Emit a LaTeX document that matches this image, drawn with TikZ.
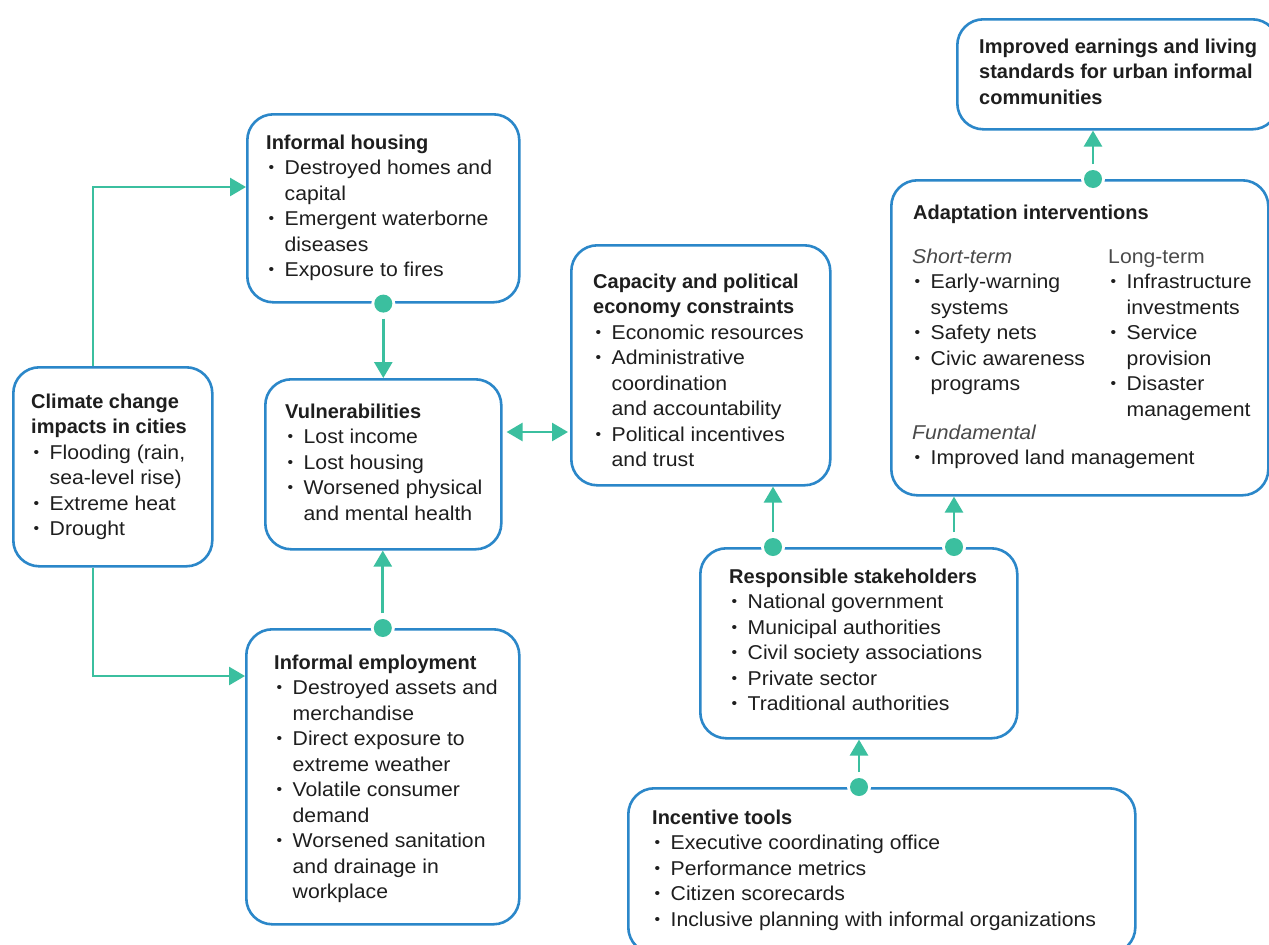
\documentclass[tikz,border=0pt]{standalone}
\usepackage{fontspec}
\setmainfont{Liberation Sans}[FakeStretch=1.06]
\newfontfamily\tfont{Liberation Sans}
\usetikzlibrary{arrows.meta,calc}
\definecolor{boxblue}{HTML}{2B87C9}
\definecolor{tealc}{HTML}{3BBF9F}
\definecolor{txtc}{HTML}{1E1E1E}
\definecolor{subc}{HTML}{4A4A4A}
\newcommand{\bi}{\makebox[18.5pt][l]{\hspace{2.5pt}\raisebox{1.8pt}{\scalebox{0.75}{\textbullet}}}}
\newcommand{\ci}{\hspace*{18.5pt}}
\newcommand{\tb}[1]{{\tfont\bfseries #1}}
\newcommand{\ttl}[1]{\rule{0pt}{16pt}{\tfont\bfseries #1}}
\newcommand{\sbl}[1]{\rule{0pt}{16pt}{\color{subc}\itshape #1}}
\newcommand{\dotat}[1]{\fill[white] (#1) circle (12pt); \fill[tealc] (#1) circle (9pt);}
\tikzset{
  box/.style={draw=boxblue, line width=2.6pt, rounded corners=26pt, fill=white, inner sep=0pt, anchor=north west},
  txt/.style={inner sep=0pt, anchor=north west, align=left, text=txtc, font=\fontsize{20}{25.5}\selectfont},
  arr/.style={draw=tealc, line width=2.7pt, -{Triangle[length=16pt,width=18pt]}},
  darr/.style={draw=tealc, line width=2.7pt, {Triangle[length=16pt,width=18pt]}-{Triangle[length=16pt,width=18pt]}},
}
\begin{document}
\begin{tikzpicture}[x=1pt,y=-1pt]
\useasboundingbox[fill=white] (0,0) rectangle (1269,945);
% boxes
\node[box, minimum width=199pt, minimum height=199pt] (clim) at (12,366) {};
\node[box, minimum width=272pt, minimum height=188pt] (hous) at (246,113) {};
\node[box, minimum width=236pt, minimum height=170pt] (vuln) at (264,378) {};
\node[box, minimum width=273pt, minimum height=295pt] (empl) at (245,628) {};
\node[box, minimum width=259pt, minimum height=240pt] (capa) at (570,244) {};
\node[box, minimum width=317pt, minimum height=190pt] (stak) at (699,547) {};
\node[box, minimum width=507pt, minimum height=165pt] (ince) at (627,787) {};
\node[box, minimum width=377pt, minimum height=315pt] (adap) at (890,179) {};
\node[box, minimum width=321pt, minimum height=110pt] (impr) at (956,18) {};
% texts
\node[txt] (climT) at (31,392) {\ttl{Climate change}\\ \tb{impacts in cities}\\ \bi Flooding (rain,\\ \ci sea-level rise)\\ \bi Extreme heat\\ \bi Drought};
\node[txt] (housT) at (266,133) {\ttl{Informal housing}\\ \bi Destroyed homes and\\ \ci capital\\ \bi Emergent waterborne\\ \ci diseases\\ \bi Exposure to fires};
\node[txt] (vulnT) at (285,402) {\ttl{Vulnerabilities}\\ \bi Lost income\\ \bi Lost housing\\ \bi Worsened physical\\ \ci and mental health};
\node[txt] (emplT) at (274,653) {\ttl{Informal employment}\\ \bi Destroyed assets and\\ \ci merchandise\\ \bi Direct exposure to\\ \ci extreme weather\\ \bi Volatile consumer\\ \ci demand\\ \bi Worsened sanitation\\ \ci and drainage in\\ \ci workplace};
\node[txt] (capaT) at (593,272) {\ttl{Capacity and political}\\ \tb{economy constraints}\\ \bi Economic resources\\ \bi Administrative\\ \ci coordination\\ \ci and accountability\\ \bi Political incentives\\ \ci and trust};
\node[txt] (stakT) at (729,567) {\ttl{Responsible stakeholders}\\ \bi National government\\ \bi Municipal authorities\\ \bi Civil society associations\\ \bi Private sector\\ \bi Traditional authorities};
\node[txt] (inceT) at (652,808) {\ttl{Incentive tools}\\ \bi Executive coordinating office\\ \bi Performance metrics\\ \bi Citizen scorecards\\ \bi Inclusive planning with informal organizations};
\node[txt] (adapT) at (913,203) {\ttl{Adaptation interventions}};
\node[txt] (adapS) at (912,247) {\sbl{Short-term}\\ \bi Early-warning\\ \ci systems\\ \bi Safety nets\\ \bi Civic awareness\\ \ci programs};
\node[txt] (adapL) at (1108,247) {\rule{0pt}{16pt}{\color{subc}Long-term}\\ \bi Infrastructure\\ \ci investments\\ \bi Service\\ \ci provision\\ \bi Disaster\\ \ci management};
\node[txt] (adapF) at (912,423) {\sbl{Fundamental}\\ \bi Improved land management};
\node[txt] (imprT) at (979,37) {\ttl{Improved earnings and living}\\ \tb{standards for urban informal}\\ \tb{communities}};
% connector points
\coordinate (dh) at (hous.south);
\coordinate (de) at (empl.north);
\coordinate (ds1) at ($(stak.north west)+(74,0)$);
\coordinate (ds2) at ($(stak.north west)+(255,0)$);
\coordinate (di) at ($(ince.north west)+(232,0)$);
\coordinate (da) at ($(adap.north west)+(203,0)$);
% connectors
\draw[arr] ($(clim.north west)+(81,0)$) |- ($(hous.north west)+(0,74)$);
\draw[arr] ($(clim.south west)+(81,0)$) |- ($(empl.north west)+(0,48)$);
\draw[arr, shorten <=15pt] (dh) -- (dh |- vuln.north);
\draw[arr, shorten <=15pt] (de) -- (de |- vuln.south);
\draw[darr, shorten <=4pt, shorten >=2pt] (vuln.east |- 0,432) -- (capa.west |- 0,432);
\draw[arr, shorten <=15pt] (ds1) -- (ds1 |- capa.south);
\draw[arr, shorten <=15pt] (ds2) -- (ds2 |- adap.south);
\draw[arr, shorten <=15pt] (di) -- (di |- stak.south);
\draw[arr, shorten <=15pt] (da) -- (da |- impr.south);
\dotat{dh}
\dotat{de}
\dotat{ds1}
\dotat{ds2}
\dotat{di}
\dotat{da}
\end{tikzpicture}
\end{document}
